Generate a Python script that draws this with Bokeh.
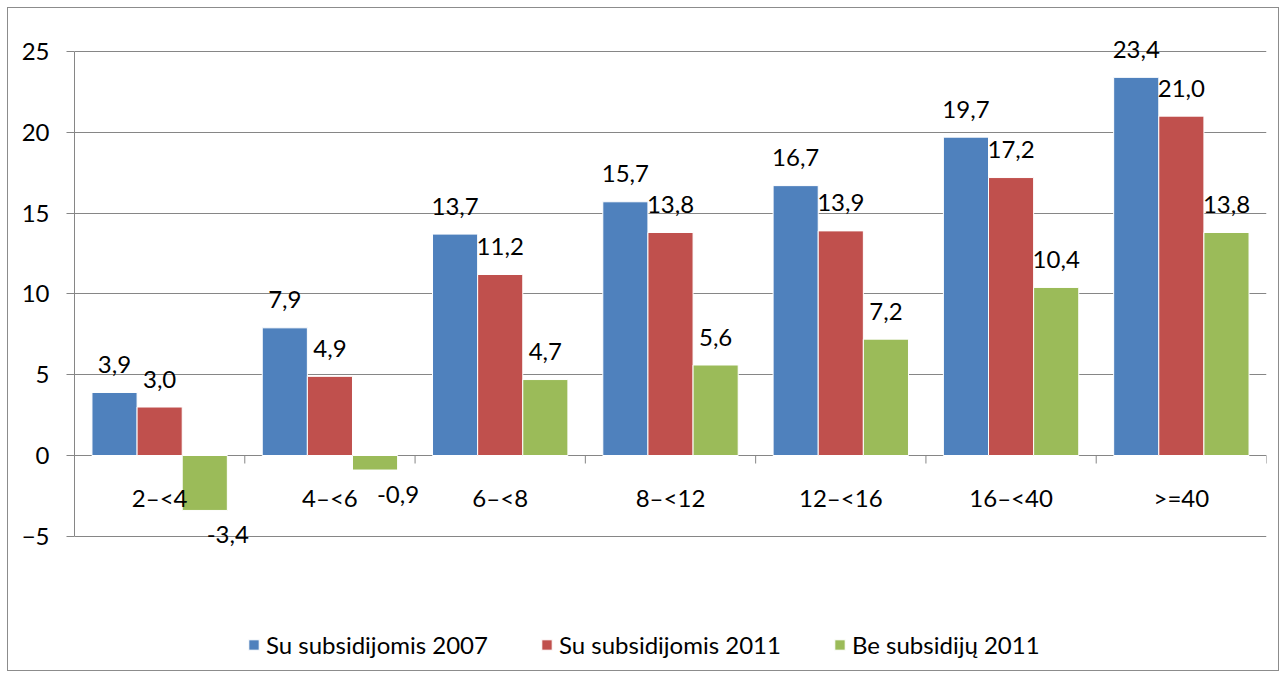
from bokeh.plotting import figure
from bokeh.models import (ColumnDataSource, Range1d, FixedTicker, Legend, LegendItem)
from bokeh.transform import dodge
from bokeh.core.properties import value
from bokeh.embed import file_html
from bokeh.resources import INLINE

categories = ["2–<4", "4–<6", "6–<8", "8–<12", "12–<16", "16–<40", ">=40"]
series_names = ["Su subsidijomis 2007", "Su subsidijomis 2011", "Be subsidijų 2011"]
s2007 = [3.9, 7.9, 13.7, 15.7, 16.7, 19.7, 23.4]
s2011 = [3.0, 4.9, 11.2, 13.8, 13.9, 17.2, 21.0]
be2011 = [-3.4, -0.9, 4.7, 5.6, 7.2, 10.4, 13.8]
y_ticks = [-5, 0, 5, 10, 15, 20, 25]

colors = ["#4F81BD", "#C0504D", "#9BBB59"]
FONT = "Lato"
FS = "24px"
GRID = "#868686"

n = len(categories)
centers = [i + 0.5 for i in range(n)]
bounds = list(range(n + 1))

# layout (px): the frame spans the full height so that labels/legend are not clipped
W, H = 1272, 664
M_LEFT, M_RIGHT = 66, 14
AXIS_TOP_PX = 43            # distance from figure top to the "25" gridline
PX_PER_UNIT = 404 / 25.0
y_top = max(y_ticks) + AXIS_TOP_PX / PX_PER_UNIT
y_bottom = y_top - H / PX_PER_UNIT

p = figure(x_range=Range1d(0, n), y_range=Range1d(y_bottom, y_top),
           width=W, height=H, output_backend="svg", toolbar_location=None,
           x_axis_location=None,
           min_border_left=M_LEFT, min_border_right=M_RIGHT,
           min_border_top=0, min_border_bottom=0)
p.styles = {"border": "1px solid #8c8c8c", "margin": "7px 0 0 7px"}
p.outline_line_color = None
p.background_fill_color = "white"
p.border_fill_color = "white"

# y axis / grid
p.yaxis.ticker = FixedTicker(ticks=y_ticks)
p.yaxis.bounds = (min(y_ticks), max(y_ticks))
p.yaxis.minor_tick_line_color = None
p.yaxis.axis_line_color = GRID
p.yaxis.major_tick_line_color = GRID
p.yaxis.major_tick_out = 8
p.yaxis.major_tick_in = 0
p.yaxis.major_label_text_font = FONT
p.yaxis.major_label_text_font_size = FS
p.yaxis.major_label_text_color = "black"
p.yaxis.major_label_standoff = 17
p.ygrid.ticker = FixedTicker(ticks=y_ticks)
p.ygrid.grid_line_color = GRID
p.ygrid.grid_line_width = 1
p.xgrid.grid_line_color = None

# tick marks at category boundaries below the zero line
tick_len = 8 / PX_PER_UNIT
p.segment(x0=bounds, y0=[0] * len(bounds), x1=bounds, y1=[-tick_len] * len(bounds),
          line_color=GRID, line_width=1)

src = ColumnDataSource(dict(x=centers, a=s2007, b=s2011, c=be2011))

bw = 0.265
offsets = [-bw, 0.0, bw]
renderers = []
for col, off, colr in zip(["a", "b", "c"], offsets, colors):
    r = p.vbar(x=dodge("x", off), top=col, bottom=0, width=bw,
               source=src, fill_color=colr, line_color="white", line_width=1)
    renderers.append(r)

# category labels under the zero line
p.text(x=centers, y=[0] * n, text=categories, text_align="center", text_baseline="middle",
       y_offset=42, text_font=value(FONT), text_font_size=value(FS), text_color="black")

def fmt(v):
    return f"{v:.1f}".replace(".", ",")

# value labels: positive above, negative below (shifted right)
for off, vals in zip(offsets, [s2007, s2011, be2011]):
    pos = ColumnDataSource(dict(x=[c for c, v in zip(centers, vals) if v >= 0],
                                y=[v for v in vals if v >= 0],
                                t=[fmt(v) for v in vals if v >= 0]))
    neg = ColumnDataSource(dict(x=[c for c, v in zip(centers, vals) if v < 0],
                                y=[v for v in vals if v < 0],
                                t=[fmt(v) for v in vals if v < 0]))
    p.text(x=dodge("x", off), y="y", text="t", source=pos,
           text_align="center", text_baseline="alphabetic", y_offset=-28,
           text_font=value(FONT), text_font_size=value(FS), text_color="black")
    p.text(x=dodge("x", off), y="y", text="t", source=neg,
           text_align="center", text_baseline="top", y_offset=16, x_offset=23,
           text_font=value(FONT), text_font_size=value(FS), text_color="black")

legend = Legend(items=[LegendItem(label=nm, renderers=[r]) for nm, r in zip(series_names, renderers)],
                orientation="horizontal", label_text_font=FONT, label_text_font_size=FS,
                label_text_color="black", glyph_width=13, glyph_height=13, spacing=52,
                border_line_color=None, background_fill_alpha=0, location=(173, 13),
                margin=0, padding=0, label_standoff=6)
p.add_layout(legend, "center")

open("out.html", "w").write(file_html(p, INLINE))
